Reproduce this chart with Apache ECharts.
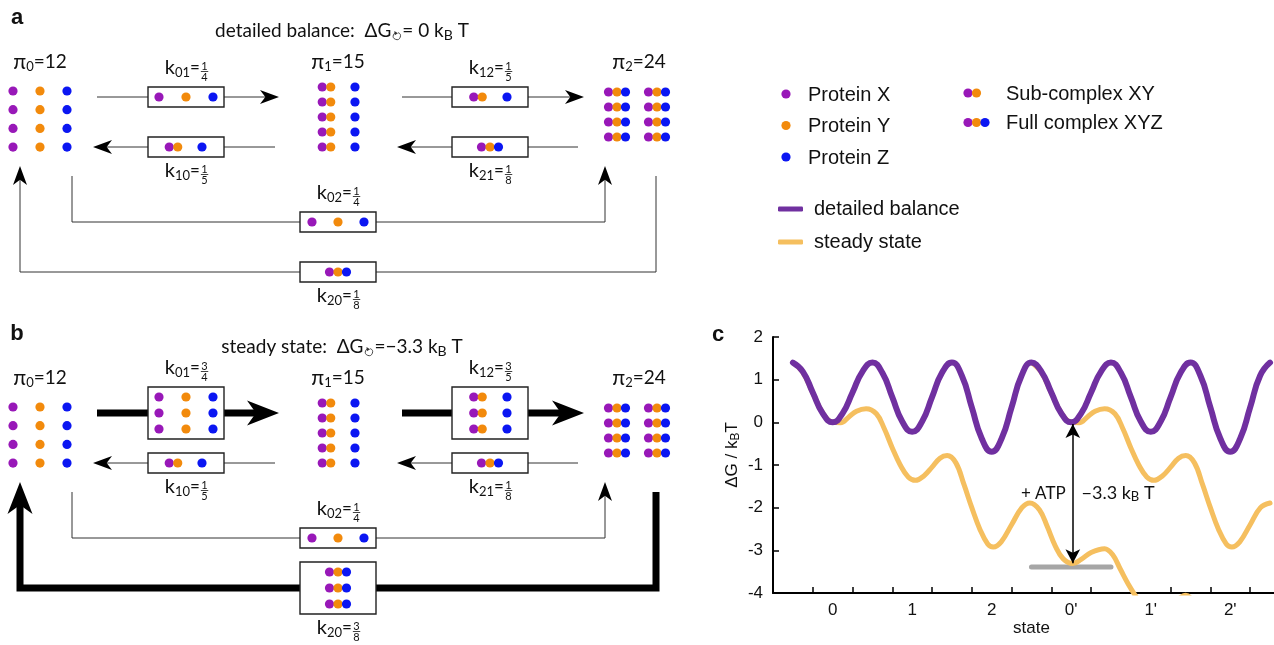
<!DOCTYPE html>
<html>
<head>
<meta charset="utf-8">
<title>Detailed balance vs steady state</title>
<script src="https://cdn.jsdelivr.net/npm/echarts@6/dist/echarts.min.js"></script>
<style>
  html, body { margin: 0; padding: 0; background: #fff; }
  #chart { width: 1274px; height: 645px; }
</style>
</head>
<body>
<div id="chart"></div>
<script>
// --- données ---
const stateLabels = ['0', '1', '2', "0'", "1'", "2'"];
const minorTicks = [-0.25, 0.25, 0.75, 1.25, 1.75, 2.25, 2.75, 3.25, 3.75, 4.25, 4.75, 5.25];
const labelTicks = [0, 1, 2, 3, 4, 5];

const piValues = [12, 15, 24];
const stateSpecies = [['X', 'Y', 'Z'], ['XY', 'Z'], ['XYZ', 'XYZ']];

const rateKeys = ['01', '10', '12', '21', '02', '20'];
const rateCarriers = [['X', 'Y', 'Z'], ['XY', 'Z'], ['XY', 'Z'], ['XYZ'], ['X', 'Y', 'Z'], ['XYZ']];
const balanceRates = [[1, 4], [1, 5], [1, 5], [1, 8], [1, 4], [1, 8]];
const steadyRates = [[3, 4], [1, 5], [3, 5], [1, 8], [1, 4], [3, 8]];
const cycleFreeEnergy = ['= 0', '=\u22123.3'];

const proteinNames = ['Protein X', 'Protein Y', 'Protein Z', 'Sub-complex XY', 'Full complex XYZ'];
const proteinKinds = ['X', 'Y', 'Z', 'XY', 'XYZ'];

const detailedBalance = [
  [-0.5, 1.4], [-0.375, 1.19], [-0.25, 0.7], [-0.125, 0.21], [0, 0], [0.125, 0.21], [0.25, 0.7], [0.375, 1.19], [0.5, 1.4],
  [0.625, 1.16], [0.75, 0.59], [0.875, 0.02], [1, -0.22], [1.125, 0.02], [1.25, 0.59], [1.375, 1.16], [1.5, 1.4],
  [1.625, 1.09], [1.75, 0.35], [1.875, -0.38], [2, -0.69], [2.125, -0.38], [2.25, 0.35], [2.375, 1.09], [2.5, 1.4],
  [2.625, 1.19], [2.75, 0.7], [2.875, 0.21], [3, 0], [3.125, 0.21], [3.25, 0.7], [3.375, 1.19], [3.5, 1.4],
  [3.625, 1.16], [3.75, 0.59], [3.875, 0.02], [4, -0.22], [4.125, 0.02], [4.25, 0.59], [4.375, 1.16], [4.5, 1.4],
  [4.625, 1.09], [4.75, 0.35], [4.875, -0.38], [5, -0.69], [5.125, -0.38], [5.25, 0.35], [5.375, 1.09], [5.5, 1.4]
];

const steadyStateA = [
  [-0.5, 1.4], [-0.375, 1.17], [-0.25, 0.69], [-0.125, 0.22], [0, 0], [0.1, -0.01], [0.2, 0.12], [0.3, 0.26],
  [0.42, 0.32], [0.55, 0.2], [0.65, -0.15], [0.75, -0.6], [0.85, -1.0], [0.95, -1.28], [1.04, -1.36],
  [1.15, -1.25], [1.25, -1.05], [1.35, -0.84], [1.44, -0.78], [1.55, -0.95], [1.65, -1.45], [1.75, -2.0],
  [1.85, -2.5], [1.95, -2.85], [2.02, -2.92], [2.12, -2.8], [2.25, -2.4], [2.38, -2.0], [2.48, -1.89],
  [2.6, -2.05], [2.7, -2.45], [2.8, -2.9], [2.9, -3.2], [3.02, -3.31], [3.12, -3.22], [3.25, -3.05],
  [3.42, -2.96], [3.52, -3.1], [3.62, -3.45], [3.72, -3.8], [3.82, -4.1], [3.95, -4.45], [4.04, -4.66],
  [4.15, -4.55], [4.25, -4.35], [4.35, -4.14], [4.44, -4.05], [4.55, -4.25], [4.65, -4.75]
];

const steadyStateB = [
  [2.5, 1.4], [2.625, 1.17], [2.75, 0.69], [2.875, 0.22], [3, 0], [3.1, -0.01], [3.2, 0.12], [3.3, 0.26],
  [3.42, 0.32], [3.55, 0.2], [3.65, -0.15], [3.75, -0.6], [3.85, -1.0], [3.95, -1.28], [4.04, -1.36],
  [4.15, -1.25], [4.25, -1.05], [4.35, -0.84], [4.44, -0.78], [4.55, -0.95], [4.65, -1.45], [4.75, -2.0],
  [4.85, -2.5], [4.95, -2.85], [5.02, -2.92], [5.12, -2.8], [5.25, -2.4], [5.38, -2.0], [5.5, -1.89]
];

const atpLevel = [[2.5, -3.39], [3.5, -3.39]];
const atpGap = [[3.02, -0.04], [3.02, -3.3]];

// --- mise en page ---
const FONT = 'Lato';
const ARIAL = 'Liberation Sans';
const SPECIES_COLOR = { X: '#9818b8', Y: '#f28a0c', Z: '#0b16f2' };
const PURPLE_LINE = '#7030a0';
const ORANGE_LINE = '#f5bf5f';
const DOT_R = 4.6;
const PAIR_GAP = 8.5;
const PANEL_B_SHIFT = 316;
const BOX_W = 76;

const stateLayout = [
  { label: [40, 62], cols: [13, 40, 67], top: 91, gap: 18.7 },
  { label: [338, 62], cols: [326.5, 355], top: 87, gap: 15 },
  { label: [639, 62], cols: [617, 657], top: 92, gap: 15 }
];
const carrierOffsets = [[-27, 0, 27], [-12.5, 16], [-12, 17], [0], [-26, 0, 26], [0]];
const edgeLayout = [
  { box: [186, 97], path: [[97, 97], [279, 97]], label: 'above' },
  { box: [186, 147], path: [[275, 147], [93, 147]], label: 'below' },
  { box: [490, 97], path: [[402, 97], [584, 97]], label: 'above' },
  { box: [490, 147], path: [[578, 147], [397, 147]], label: 'below' },
  { box: [338, 222], path: [[72, 176], [72, 222], [605, 222], [605, 166]], label: 'above' },
  { box: [338, 272], path: [[656, 176], [656, 272], [20, 272], [20, 166]], label: 'below' }
];
const atpLabelAt = [2.93, -1.66];
const gapLabelAt = [3.13, -1.66];

// --- outils de dessin ---
const measure = document.createElement('canvas').getContext('2d');
function textWidth(str, size, family) {
  measure.font = size + 'px "' + family + '"';
  return measure.measureText(str).width;
}

function txt(str, x, y, size, align, family, weight) {
  return {
    type: 'text', x: x, y: y, z: 20, silent: true,
    style: {
      text: str,
      font: (weight || 'normal') + ' ' + size + 'px "' + (family || FONT) + '"',
      fill: '#111', textAlign: align || 'left', textVerticalAlign: 'middle'
    }
  };
}

// Petite flèche circulaire (cycle) dessinée à la main
function cycleGlyph(cx, cy) {
  const r = 3.6;
  const end = -Math.PI / 2 - 0.55 + Math.PI * 2;
  const ex = cx + r * Math.cos(end), ey = cy + r * Math.sin(end);
  return [
    {
      type: 'arc', silent: true, z: 20,
      shape: { cx: cx, cy: cy, r: r, startAngle: -Math.PI / 2 + 0.35, endAngle: end, clockwise: true },
      style: { stroke: '#333', lineWidth: 0.9, fill: null }
    },
    {
      type: 'polygon', silent: true, z: 20,
      shape: { points: [[ex + 3, ey + 0.4], [ex - 0.6, ey - 2], [ex - 0.2, ey + 2.2]] },
      style: { fill: '#333' }
    }
  ];
}

// Texte composé (indices, fractions) placé morceau par morceau
function inline(parts, x0, cy, align, family) {
  family = family || FONT;
  const widths = parts.map(p => {
    if (p.glyph) return p.width;
    if (p.frac) return Math.max(textWidth(String(p.frac[0]), p.size, family), textWidth(String(p.frac[1]), p.size, family)) + 3;
    return textWidth(p.text, p.size, family);
  });
  const total = widths.reduce((a, b) => a + b, 0);
  let x = align === 'left' ? x0 : (align === 'right' ? x0 - total : x0 - total / 2);
  const out = [];
  parts.forEach((p, i) => {
    const w = widths[i];
    if (p.glyph) {
      out.push(...cycleGlyph(x + w / 2, cy + p.dy));
    } else if (p.frac) {
      const mx = x + w / 2;
      out.push(txt(String(p.frac[0]), mx, cy - 2, p.size, 'center', family));
      out.push({ type: 'line', silent: true, z: 20, shape: { x1: mx - w / 2 + 1, y1: cy + 3.5, x2: mx + w / 2 - 1, y2: cy + 3.5 }, style: { stroke: '#111', lineWidth: 0.8 } });
      out.push(txt(String(p.frac[1]), mx, cy + 9.5, p.size, 'center', family));
    } else {
      out.push(txt(p.text, x, cy + (p.dy || 0), p.size, 'left', family));
    }
    x += w;
  });
  return out;
}

function dots(kind, cx, cy) {
  const letters = kind.split('');
  return letters.map((l, i) => ({
    type: 'circle', silent: true, z: 12 + i,
    shape: { cx: cx + (i - (letters.length - 1) / 2) * PAIR_GAP, cy: cy, r: DOT_R },
    style: { fill: SPECIES_COLOR[l] }
  }));
}

function arrowHead(tip, from, len, half) {
  const dx = tip[0] - from[0], dy = tip[1] - from[1];
  const d = Math.hypot(dx, dy), ux = dx / d, uy = dy / d, px = -uy, py = ux;
  const bx = tip[0] - ux * len, by = tip[1] - uy * len;
  const nx = tip[0] - ux * len * 0.72, ny = tip[1] - uy * len * 0.72;
  return {
    type: 'polygon', silent: true, z: 9,
    shape: { points: [tip, [bx + px * half, by + py * half], [nx, ny], [bx - px * half, by - py * half]] },
    style: { fill: '#000' }
  };
}

function buildPanel(rates, dG, shift, letter, title) {
  const els = [];
  const sy = y => y + shift;
  els.push(txt(letter, 17, sy(18), 22, 'center', ARIAL, 'bold'));
  els.push(...inline([
    { text: title + '  \u0394G', size: 19 },
    { glyph: true, width: 11, dy: 5 },
    { text: dG + ' k', size: 19 },
    { text: 'B', size: 14, dy: 4 },
    { text: ' T', size: 19 }
  ], 342, sy(31)));

  stateLayout.forEach((L, i) => {
    els.push(...inline([
      { text: '\u03c0', size: 21 },
      { text: String(i), size: 13, dy: 5 },
      { text: '=' + piValues[i], size: 19 }
    ], L.label[0], sy(L.label[1])));
    const perRow = stateSpecies[i].join('').length;
    const rows = piValues[i] / perRow;
    for (let r = 0; r < rows; r++) {
      stateSpecies[i].forEach((kind, c) => els.push(...dots(kind, L.cols[c], sy(L.top + r * L.gap))));
    }
  });

  rateKeys.forEach((key, i) => {
    const E = edgeLayout[i];
    const num = rates[i][0], den = rates[i][1];
    const thick = num > 1;
    const pts = E.path.map(p => [p[0], sy(p[1])]);
    const headLen = thick ? 32 : 19, half = thick ? 12.5 : 7;
    const tip = pts[pts.length - 1], prev = pts[pts.length - 2];
    const d = Math.hypot(tip[0] - prev[0], tip[1] - prev[1]);
    const cut = headLen * 0.6;
    const linePts = pts.slice(0, -1).concat([[tip[0] - (tip[0] - prev[0]) / d * cut, tip[1] - (tip[1] - prev[1]) / d * cut]]);
    els.push({
      type: 'polyline', silent: true, z: 8, shape: { points: linePts },
      style: { stroke: thick ? '#000' : '#333', lineWidth: thick ? 7 : 1, lineJoin: 'miter', fill: null }
    });
    els.push(arrowHead(tip, prev, headLen, half));

    const bx = E.box[0], by = sy(E.box[1]);
    const h = 20 + (num - 1) * 16;
    els.push({
      type: 'rect', silent: true, z: 10,
      shape: { x: bx - BOX_W / 2, y: by - h / 2, width: BOX_W, height: h },
      style: { fill: '#fff', stroke: '#222', lineWidth: 1.4 }
    });
    for (let r = 0; r < num; r++) {
      const ry = by - (num - 1) * 8 + r * 16;
      rateCarriers[i].forEach((kind, c) => els.push(...dots(kind, bx + carrierOffsets[i][c], ry)));
    }
    const ly = E.label === 'above' ? by - h / 2 - 19 : by + h / 2 + 14;
    els.push(...inline([
      { text: 'k', size: 20 },
      { text: key, size: 13, dy: 5 },
      { text: '=', size: 17 },
      { frac: [num, den], size: 11 }
    ], bx + 1, ly));
  });
  return els;
}

function buildLegend() {
  const els = [];
  const slots = [[786, 808, 94], [786, 808, 125.5], [786, 808, 157], [968, 1006, 93], [968, 1006, 122.5]];
  proteinNames.forEach((name, i) => {
    const s = slots[i];
    const n = proteinKinds[i].length;
    els.push(...dots(proteinKinds[i], s[0] + (n - 1) * PAIR_GAP / 2, s[2]));
    els.push(txt(name, s[1], s[2] + 1, 20, 'left', ARIAL));
  });
  return els;
}

// --- graphique ---
const chart = echarts.init(document.getElementById('chart'));

chart.setOption({
  animation: false,
  textStyle: { fontFamily: ARIAL },
  legend: {
    data: ['detailed balance', 'steady state'],
    orient: 'vertical', left: 773, top: 194, itemGap: 13,
    icon: 'roundRect', itemWidth: 25, itemHeight: 5,
    selectedMode: false,
    textStyle: { fontSize: 20, color: '#111', padding: [0, 0, 0, 6] }
  },
  grid: { left: 773, top: 337, width: 501, height: 256, outerBoundsMode: 'none' },
  xAxis: {
    type: 'value', min: -0.75, max: 5.55,
    axisLine: { onZero: false, lineStyle: { color: '#000', width: 2 } },
    axisTick: { show: true, inside: true, length: 6, customValues: minorTicks, lineStyle: { color: '#000', width: 1.5 } },
    axisLabel: { customValues: labelTicks, formatter: v => stateLabels[Math.round(v)], fontSize: 17, color: '#111', margin: 9 },
    splitLine: { show: false },
    name: 'state', nameLocation: 'middle', nameGap: 27,
    nameTextStyle: { fontSize: 17, color: '#111', padding: [0, 0, 0, 16] }
  },
  yAxis: {
    type: 'value', min: -4, max: 2, interval: 1,
    axisLine: { show: true, onZero: false, lineStyle: { color: '#000', width: 2 } },
    axisTick: { show: true, inside: true, length: 6, lineStyle: { color: '#000', width: 1.5 } },
    axisLabel: { fontSize: 17, color: '#111', margin: 10 },
    splitLine: { show: false },
    name: '{a|\u0394G / k}{b|B}{a|T}', nameLocation: 'middle', nameRotate: 90, nameGap: 31,
    nameTextStyle: {
      padding: [0, 0, 0, 20],
      rich: {
        a: { fontSize: 17, color: '#111', lineHeight: 20, fontFamily: ARIAL },
        b: { fontSize: 12, color: '#111', lineHeight: 12, verticalAlign: 'bottom', fontFamily: ARIAL }
      }
    }
  },
  series: [
    {
      name: 'steady state', type: 'line', data: steadyStateA, smooth: 0.4, symbol: 'none', z: 2,
      lineStyle: { width: 5, color: ORANGE_LINE, cap: 'round' }, itemStyle: { color: ORANGE_LINE }
    },
    {
      name: 'steady state', type: 'line', data: steadyStateB, smooth: 0.4, symbol: 'none', z: 2,
      lineStyle: { width: 5, color: ORANGE_LINE, cap: 'round' }, itemStyle: { color: ORANGE_LINE }
    },
    {
      name: 'detailed balance', type: 'line', data: detailedBalance, smooth: 0.5, symbol: 'none', z: 3,
      lineStyle: { width: 6, color: PURPLE_LINE, cap: 'round' }, itemStyle: { color: PURPLE_LINE }
    },
    {
      name: 'ATP level', type: 'line', data: atpLevel, symbol: 'none', z: 1,
      lineStyle: { width: 5, color: '#a6a6a6', cap: 'round' }, itemStyle: { color: '#a6a6a6' },
      markLine: {
        silent: true, symbol: ['arrow', 'arrow'], symbolSize: [11, 14],
        label: { show: false },
        lineStyle: { color: '#000', width: 1.5, type: 'solid' },
        data: [[{ coord: atpGap[0] }, { coord: atpGap[1] }]]
      }
    }
  ]
});

// Annotations placées via les échelles du graphique
const atpPx = chart.convertToPixel({ gridIndex: 0 }, atpLabelAt);
const gapPx = chart.convertToPixel({ gridIndex: 0 }, gapLabelAt);

const elements = []
  .concat(buildPanel(balanceRates, cycleFreeEnergy[0], 0, 'a', 'detailed balance:'))
  .concat(buildPanel(steadyRates, cycleFreeEnergy[1], PANEL_B_SHIFT, 'b', 'steady state:'))
  .concat(buildLegend())
  .concat([txt('c', 718, 335, 22, 'center', ARIAL, 'bold')])
  .concat(inline([{ text: '+ ATP', size: 17 }], atpPx[0], atpPx[1], 'right'))
  .concat(inline([
    { text: '\u22123.3 k', size: 18 },
    { text: 'B', size: 13, dy: 4 },
    { text: ' T', size: 18 }
  ], gapPx[0], gapPx[1], 'left'));

chart.setOption({ graphic: { elements: elements } });

window.addEventListener('resize', function () {
  chart.resize();
});
</script>
</body>
</html>
